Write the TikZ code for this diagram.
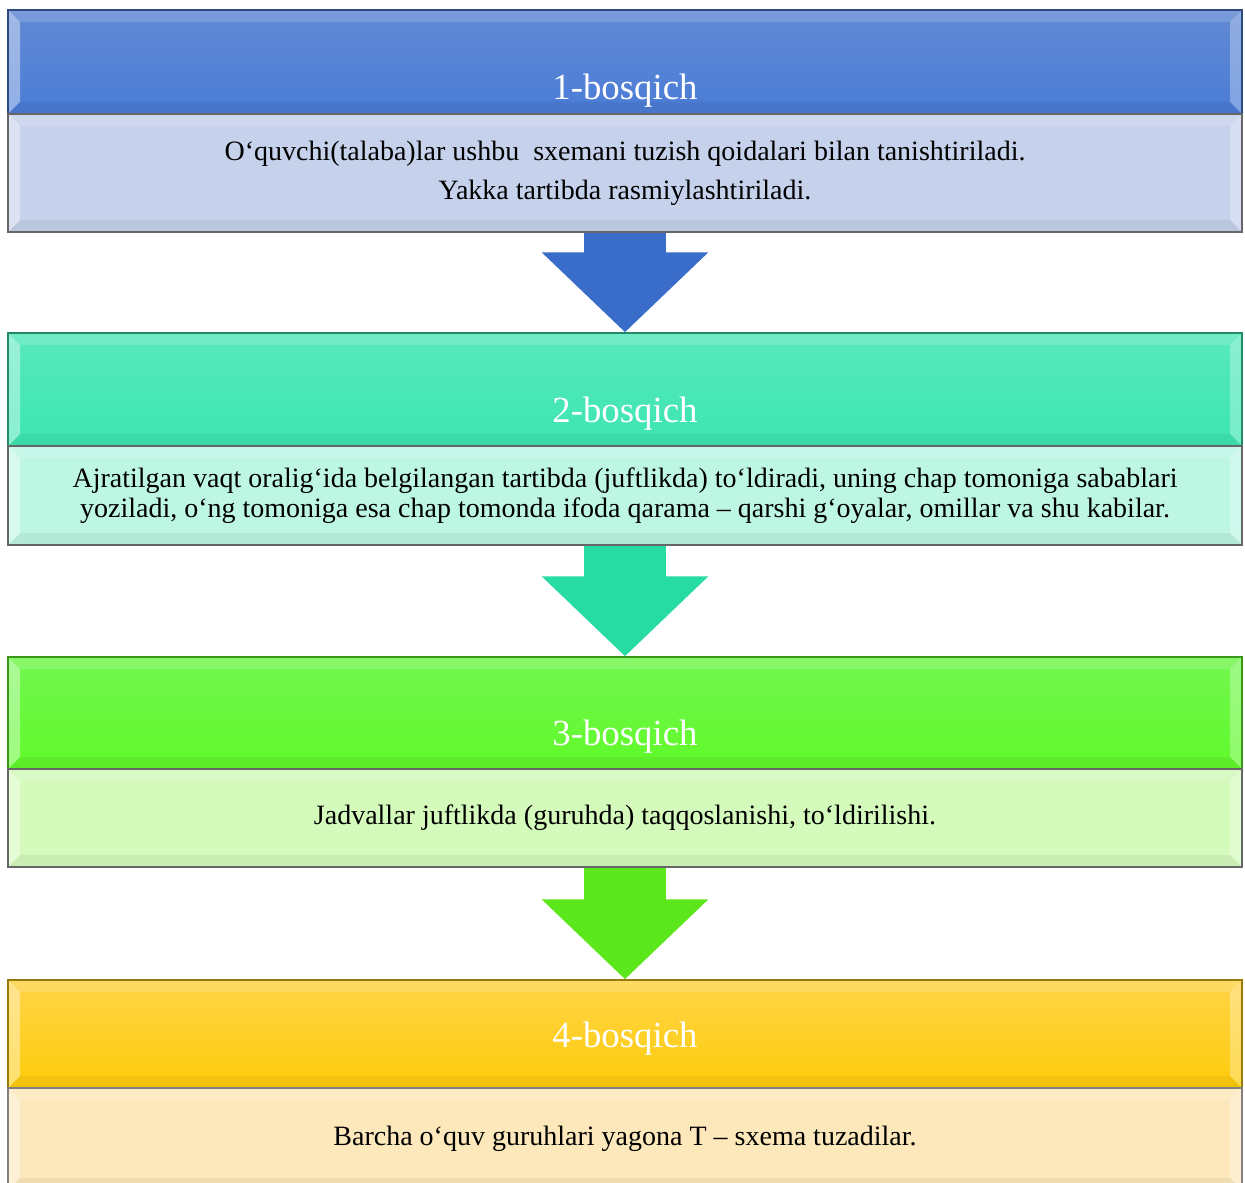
\documentclass[tikz,border=0pt]{standalone}
\usepackage{fontspec}
\setmainfont{Liberation Serif}
\usetikzlibrary{arrows.meta}
\definecolor{hdAt}{RGB}{98,138,212}
\definecolor{hdAb}{RGB}{74,124,214}
\definecolor{bdA}{RGB}{198,209,236}
\definecolor{arA}{RGB}{58,108,202}
\definecolor{hdBt}{RGB}{88,232,188}
\definecolor{hdBb}{RGB}{60,230,176}
\definecolor{bdB}{RGB}{190,246,228}
\definecolor{arB}{RGB}{38,220,162}
\definecolor{hdCt}{RGB}{115,246,80}
\definecolor{hdCb}{RGB}{96,250,42}
\definecolor{bdC}{RGB}{212,250,188}
\definecolor{arC}{RGB}{92,230,28}
\definecolor{hdDt}{RGB}{255,212,72}
\definecolor{hdDb}{RGB}{254,204,10}
\definecolor{bdD}{RGB}{252,232,186}
\newcommand{\ppb}{path picture bounding box}

\begin{document}
\begin{tikzpicture}[x=0.5pt, y=-0.5pt, every node/.style={font=\fontsize{14}{15}\selectfont}, >={Triangle[length=40pt 0 0, width=81pt 0 0]},
	bevel/.style={path picture={
		\fill[white, opacity=.4] (\ppb.north west) -- (\ppb.south west) -- ([shift={(12,-12)}]\ppb.south west) -- ([shift={(12,12)}]\ppb.north west) -- cycle;
		\fill[white, opacity=.3] (\ppb.north east) -- (\ppb.south east) -- ([shift={(-12,-12)}]\ppb.south east) -- ([shift={(-12,12)}]\ppb.north east) -- cycle;
		\fill[white, opacity=.15] (\ppb.north west) -- (\ppb.north east) -- ([shift={(-12,12)}]\ppb.north east) -- ([shift={(12,12)}]\ppb.north west) -- cycle;
		\fill[black, opacity=.05] (\ppb.south west) -- (\ppb.south east) -- ([shift={(-12,-12)}]\ppb.south east) -- ([shift={(12,-12)}]\ppb.south west) -- cycle;
	}},
	box/.style={rectangle, inner sep=0pt, minimum width=617pt, line width=0.7pt, align=center, bevel},
	hdtext/.style={text=white, font=\fontsize{18.4}{22}\selectfont},
	flow/.style={->, line width=41pt}]
	\useasboundingbox (0,0) rectangle (1245,1182);
	\node[box, top color=hdAt, bottom color=hdAb, draw=hdAb!60!black, minimum height=52pt] (h1) at (625,62) {};
	\node[hdtext] (t1) at ([yshift=-14.5pt]h1.center) {1-bosqich};
	\node[box, fill=bdA, draw=black!60, minimum height=59pt, font=\fontsize{14}{19.5}\selectfont] (b1) at (625,173) {O‘quvchi(talaba)lar ushbu~ sxemani tuzish qoidalari bilan tanishtiriladi.\\Yakka tartibda rasmiylashtiriladi.};
	\node[box, top color=hdBt, bottom color=hdBb, draw=hdBb!60!black, minimum height=56.5pt] (h2) at (625,389.5) {};
	\node[hdtext] (t2) at ([yshift=-12pt]h2.center) {2-bosqich};
	\node[box, fill=bdB, draw=black!60, minimum height=49.5pt] (b2) at (625,495.5) {Ajratilgan vaqt oralig‘ida belgilangan tartibda (juftlikda) to‘ldiradi, uning chap tomoniga sabablari\\yoziladi, o‘ng tomoniga esa chap tomonda ifoda qarama – qarshi g‘oyalar, omillar va shu kabilar.};
	\node[box, top color=hdCt, bottom color=hdCb, draw=hdCb!60!black, minimum height=56pt] (h3) at (625,713) {};
	\node[hdtext] (t3) at ([yshift=-12pt]h3.center) {3-bosqich};
	\node[box, fill=bdC, draw=black!60, minimum height=49pt] (b3) at (625,818) {Jadvallar juftlikda (guruhda) taqqoslanishi, to‘ldirilishi.};
	\node[box, top color=hdDt, bottom color=hdDb, draw=hdDb!60!black, minimum height=54pt] (h4) at (625,1034) {};
	\node[hdtext] (t4) at ([yshift=-2.5pt]h4.center) {4-bosqich};
	\node[box, fill=bdD, draw=black!50, minimum height=51pt] (b4) at (625,1139) {Barcha o‘quv guruhlari yagona T – sxema tuzadilar.};
	\draw[flow, arA] (b1.south) -- (h2.north);
	\draw[flow, arB] (b2.south) -- (h3.north);
	\draw[flow, arC] (b3.south) -- (h4.north);
\end{tikzpicture}
\end{document}
